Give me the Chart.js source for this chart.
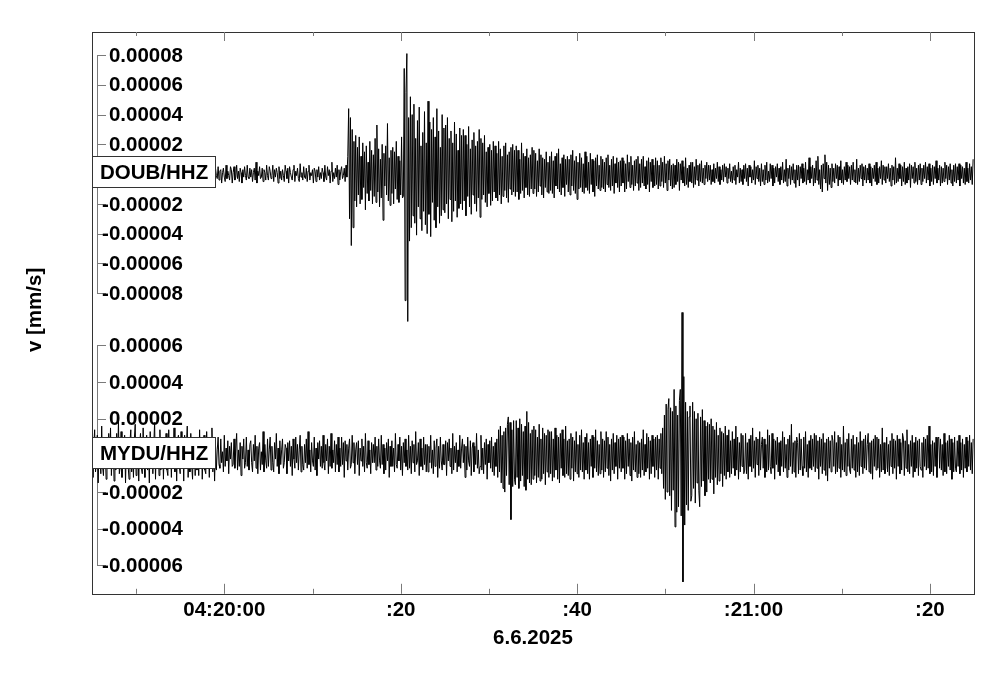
<!DOCTYPE html>
<html lang="en">
<head>
    <meta charset="UTF-8">
    <title>DOUB / MYDU seismogram</title>
    <script src="https://cdn.jsdelivr.net/npm/chart.js"></script>
    <style>
        * { margin: 0; padding: 0; box-sizing: border-box; }
        body { background: #fff; }
        .wrap { width: 1000px; height: 678px; position: relative; }
    </style>
</head>
<body>
    <div class="wrap"><canvas id="seis"></canvas></div>

    <script>
        // time axis: seconds relative to 04:20:00, one sample per 0.1 s
        const startSec = -15;
        const sampleStep = 0.1;
        const timeTicks = [0, 20, 40, 60, 80];
        const timeLabels = ['04:20:00', ':20', ':40', ':21:00', ':20'];
        const minorTimeTicks = [-10, 10, 30, 50, 70];
        const dateLabel = '6.6.2025';
        const yTitle = 'v [mm/s]';
        const stations = ['DOUB/HHZ', 'MYDU/HHZ'];

        // tick values in 1e-6 mm/s
        const doubTicks = [80, 60, 40, 20, -20, -40, -60, -80];
        const myduTicks = [60, 40, 20, -20, -40, -60];

        // DOUB/HHZ velocity, 1e-6 mm/s, 20 samples (2 s) per row
        const doubValues = [
            2,-3,5,-1,-4,3,6,-2,-5,1,4,-3,2,-6,3,5,-1,-4,2,-2,
            4,-5,1,3,-2,-6,4,2,-3,5,-1,-4,7,-3,-2,4,1,-5,3,-1,
            -3,6,-2,-4,5,1,-6,3,-1,4,-5,2,6,-3,-2,5,-4,1,3,-6,
            5,-2,-4,3,8,-5,1,-3,4,-2,-6,5,2,-4,3,-1,6,-5,-2,4,
            -1,3,-5,6,-2,-3,4,1,-7,5,-2,3,-4,2,5,-6,1,4,-3,-1,
            3,-4,2,5,-6,1,-2,4,3,-5,6,-3,-1,4,-4,2,7,-5,-2,3,
            -5,2,4,-3,1,-6,5,-1,3,-4,2,6,-5,-2,4,-3,1,5,-6,2,
            4,-1,-3,5,-4,2,3,-6,1,4,-2,-5,6,-3,2,-1,-4,5,3,-6,
            1,5,-4,-2,6,-3,2,-5,4,1,-6,3,-2,5,-1,-4,6,-2,-3,4,
            -2,3,-5,1,4,-4,8,-6,2,-1,5,-3,-2,4,-5,3,1,-4,6,-1,
            -4,5,2,-3,-1,6,-5,3,-2,4,1,-6,5,-3,2,-4,3,-1,-5,6,
            2,-3,4,-6,5,1,-2,-4,3,6,-5,2,-1,4,-3,-5,7,-2,1,-4,
            5,-2,-3,4,-5,2,6,-4,1,-1,3,-6,4,2,-5,3,-2,5,-4,1,
            -3,4,1,-5,6,-2,-4,5,-1,3,-6,2,8,-5,1,-3,4,-2,6,-7,
            3,-4,2,5,-3,-1,4,-5,6,-2,12,44,-30,38,-48,30,-36,22,-18,26,
            -22,18,-14,25,-20,12,-17,21,-9,15,-24,19,-13,8,-18,22,-11,16,-20,13,
            -15,24,-19,33,-12,17,-22,10,-16,20,-31,14,-8,19,-14,34,-18,11,-21,16,
            -13,18,-20,15,-10,22,-17,12,-19,9,-14,25,-16,-15,71,-85,55,81,-99,38,
            -45,52,-36,40,-28,47,-33,24,-41,36,-22,45,-30,19,-38,28,-25,42,-34,21,
            -40,49,-27,35,-42,30,-19,38,-31,25,-36,44,-22,29,-33,18,-28,40,-24,31,
            -26,33,-20,38,-30,24,-17,29,-32,21,-25,35,-18,27,-29,16,-23,31,-20,26,
            -24,30,-18,26,-28,20,-15,32,-22,17,-27,23,-14,28,-20,19,-25,22,-16,30,
            -29,24,-17,21,-14,26,-19,15,-22,18,-13,20,-21,16,-18,22,-12,19,-16,14,
            -18,22,-14,17,-20,12,-15,19,-11,21,-16,13,-19,15,-10,18,-14,20,-12,16,
            -15,19,-12,16,-17,10,-13,21,-11,14,-16,12,-9,17,-14,11,-15,13,-10,18,
            -13,16,-10,14,-15,9,-12,17,-8,13,-14,11,-16,10,-9,15,-12,8,-13,12,
            -11,15,-13,9,-16,12,-8,14,-10,17,-12,7,-14,11,-9,13,-15,10,-7,12,
            -12,10,-14,13,-8,16,-11,9,-13,12,-17,8,-10,14,-9,11,-12,7,-13,15,
            -9,12,-11,8,-13,14,-7,10,-12,9,-15,11,-8,13,-10,6,-11,12,-9,10,
            -10,8,-12,11,-7,13,-9,6,-11,10,-8,12,-13,7,-6,11,-9,8,-12,9,
            -8,11,-6,9,-12,7,-10,13,-5,8,-9,12,-7,6,-11,9,-8,10,-6,12,
            -11,7,-9,10,-6,12,-8,5,-10,9,-7,11,-12,8,-5,10,-9,6,-8,11,
            -7,9,-10,6,-8,11,-5,8,-9,12,-6,7,-11,9,-4,10,-8,6,-10,7,
            -9,6,-7,10,-5,8,-11,7,-4,9,-6,5,-8,11,-7,4,-9,6,-5,8,
            -6,8,-9,5,-7,10,-4,6,-8,7,-5,9,-6,4,-7,6,-3,8,-5,6,
            -4,6,-7,3,-5,7,-6,4,-3,8,-5,5,-7,3,-4,6,-5,7,-2,5,
            -6,4,-3,7,-5,2,-6,5,-4,6,-7,3,-2,8,-6,4,-5,3,-7,6,
            -3,7,-5,4,-8,6,-2,5,-6,3,-4,9,-7,5,-3,6,-5,4,-8,7,
            -5,3,-7,6,-4,8,-6,2,-5,7,-3,6,-8,4,-6,5,-2,7,-5,4,
            -7,5,-4,8,-6,3,-5,10,-8,4,-3,6,-7,5,-4,7,-6,3,-9,6,
            -4,6,-8,5,-3,7,-6,4,-5,8,-7,3,-4,11,-6,5,-3,6,-8,4,
            -6,9,-4,12,-7,3,-10,6,-12,7,-3,13,-6,8,-11,6,-7,4,-9,7,
            -5,4,-6,7,-3,6,-8,5,-4,9,-6,3,-7,5,-4,8,-5,6,-3,5,
            -7,6,-4,8,-5,3,-6,10,-7,4,-5,6,-3,7,-8,5,-4,6,-6,4,
            -4,7,-6,5,-8,4,-3,6,-5,8,-7,4,-6,5,-3,9,-7,6,-4,5,
            -6,5,-3,7,-5,4,-8,6,-4,5,-7,11,-6,4,-5,7,-3,6,-8,5,
            -5,8,-7,4,-6,5,-4,7,-9,6,-3,5,-6,8,-5,4,-7,6,-4,7,
            -7,4,-5,6,-3,8,-6,5,-4,7,-8,4,-5,6,-7,5,-3,9,-6,4,
            -4,6,-8,5,-6,4,-5,8,-3,6,-7,5,-4,7,-6,3,-8,6,-5,7,
            -6,5,-4,7,-8,6,-3,5,-6,4,-7,8,-5,4,-6,7,-4,5,-7,10
        ];

        // MYDU/HHZ velocity, 1e-6 mm/s, 20 samples (2 s) per row
        const myduValues = [
            8,-12,5,14,-9,-3,11,-15,7,2,-10,16,-6,-11,9,4,-13,10,-5,12,
            -7,15,-11,3,9,-14,6,-8,12,-4,19,-10,-6,13,-12,8,-3,11,-15,5,
            10,-6,-13,7,14,-9,4,-12,9,17,-11,-5,8,-14,6,12,-7,-10,15,-4,
            -12,6,11,-8,3,-15,13,-6,9,-10,5,18,-13,7,-4,10,-11,14,-8,2,
            9,-13,7,-5,12,-8,-11,14,-3,6,-12,10,-7,15,-9,4,-14,8,11,-6,
            -10,13,-4,8,-14,11,-7,5,16,-12,3,-9,12,-5,-13,9,6,-11,10,-8,
            7,-11,14,-6,9,-13,4,11,-8,-10,13,-3,6,-12,10,-7,15,-9,5,-14,
            6,-8,3,10,-5,-7,9,-4,2,-9,11,-6,4,-3,8,-10,5,-2,7,-6,
            -5,9,-7,4,12,-8,3,-6,7,-11,5,-2,9,-7,-4,10,-6,3,-8,6,
            8,-4,-9,6,-3,11,-7,5,-10,4,7,-8,2,-5,13,-9,6,-3,-7,9,
            -6,3,10,-8,5,-4,-9,7,-2,12,-6,4,-10,8,-5,3,9,-7,-4,6,
            4,-10,7,-3,8,-6,5,-11,9,-2,-7,10,-4,6,-8,3,11,-9,5,-5,
            -8,6,-4,9,-7,13,-5,3,-9,7,-3,-6,10,-8,4,-11,7,-2,8,-6,
            5,-7,11,-4,-8,6,-3,9,-10,5,-6,12,-7,3,-4,8,-9,6,-5,10,
            -9,4,-6,10,-5,7,-12,8,-3,6,-8,4,9,-7,-5,11,-4,7,-10,3,
            7,-5,8,-11,4,-3,9,-6,5,-9,12,-4,-7,8,-5,3,-10,7,-4,6,
            -4,10,-8,5,-6,9,-3,-7,11,-5,6,-10,4,-8,7,-3,9,-12,5,-6,
            8,-6,4,-9,12,-5,-7,6,-3,10,-8,5,-11,7,-4,9,-6,3,-8,11,
            -7,5,-10,8,-4,6,-9,13,-5,-3,7,-11,9,-6,4,-8,10,-5,6,-9,
            6,-9,5,-4,11,-7,3,-10,8,-6,4,9,-12,5,-7,10,-3,-8,6,-5,
            -5,8,-11,7,-3,9,-6,4,-10,12,-8,5,-4,7,-9,3,-6,11,-7,4,
            9,-4,6,-12,5,-8,10,-3,-6,8,-11,4,7,-9,5,-5,12,-7,3,-10,
            -6,11,-8,4,-10,7,-5,9,-13,6,-4,8,-7,10,-9,5,-11,7,-6,9,
            -12,14,-9,16,-15,11,-18,13,-20,15,-11,17,21,-16,18,-35,14,-17,19,-13,
            -16,19,-12,15,-18,20,-14,17,-11,13,-17,16,-19,24,-13,18,-15,12,-16,14,
            -13,16,-11,14,-15,10,-12,17,-14,9,-13,15,-10,12,-16,11,-9,14,-12,13,
            -10,13,-14,9,-12,15,-8,11,-13,10,-15,12,-7,14,-11,9,-12,16,-10,8,
            -11,9,-13,12,-7,10,-14,8,-9,13,-10,6,-12,11,-8,14,-9,7,-13,10,
            -8,12,-10,7,-13,9,-6,11,-12,10,-7,14,-9,8,-11,6,-10,13,-8,9,
            -12,8,-9,13,-7,10,-11,6,-14,9,-8,12,-10,7,-6,11,-13,9,-7,10,
            -9,11,-7,10,-13,8,-10,12,-6,9,-11,7,-14,10,-8,13,-9,6,-12,8,
            -10,7,-12,9,-8,14,-11,6,-9,12,-7,10,-13,8,-10,11,-6,9,-12,10,
            -8,11,-13,9,-7,12,-10,15,-18,22,-24,28,-20,25,31,-22,26,-30,24,-19,
            36,-39,27,-31,22,-28,30,36,-33,78,-69,43,-38,29,-27,24,-30,21,27,-25,
            -22,29,-18,24,-26,20,-15,23,-19,-28,21,-17,25,-14,19,-22,16,-20,18,-13,
            17,-15,20,-13,16,-21,14,-12,18,-16,11,-14,15,-10,13,-17,12,-11,16,-13,
            11,-9,14,-12,8,-10,13,-7,9,-11,16,-8,10,-13,7,-9,12,-6,11,-10,
            -8,12,-10,7,-13,9,-6,11,-9,15,-7,8,-12,10,-5,9,-11,13,-8,6,
            10,-7,9,-12,6,-9,14,-8,11,-6,-10,12,-7,9,-13,8,-5,10,-9,7,
            -11,8,-6,13,-9,10,-7,6,-12,9,-8,11,-6,17,-10,7,-9,8,-12,10,
            7,-10,12,-8,9,-6,-11,10,-7,13,-9,6,-12,8,-7,11,-8,9,-6,12,
            -9,11,-7,8,-13,10,-6,9,-10,12,-8,7,-11,9,-14,10,-7,8,-9,11,
            8,-6,13,-10,7,-9,11,-7,10,-12,6,-8,16,-9,7,-11,9,-6,12,-8,
            -10,9,-7,11,-8,6,-12,10,-9,7,-11,13,-6,8,-10,9,-7,11,-8,6,
            12,-9,7,-10,8,-13,9,-6,11,-8,10,-7,9,-12,6,-9,15,-8,7,-10,
            -7,10,-9,6,-11,8,-6,12,-10,9,-7,8,-13,11,-6,9,-10,7,-8,12,
            9,-11,8,-7,14,-9,6,-10,8,-6,11,-12,7,-9,10,-7,8,-11,9,-6,
            -8,7,-12,10,-6,9,-8,11,-7,16,-10,6,-9,8,-11,7,-6,10,-12,9,
            10,-7,9,-8,6,-11,12,-9,7,-10,8,-6,11,-8,9,-13,7,-9,10,-7,
            -9,8,-6,11,-10,7,-8,9,-12,6,-7,10,-9,8,-6,11,-8,7,-10,9
        ];

        const FONT = '"Liberation Sans", Arial, sans-serif';
        const labelFont = 'bold 20.5px ' + FONT;
        const micro = v => (v / 1e6).toFixed(5);
        const toPoints = vals => vals.map((v, i) => ({ x: startSec + i * sampleStep, y: v }));

        // frame, inward time ticks, channel brackets and station boxes
        const seisFrame = {
            id: 'seisFrame',
            beforeDatasetsDraw(chart) {
                const { ctx, chartArea: a, scales } = chart;
                ctx.save();
                [[scales.yTop, doubTicks], [scales.yBot, myduTicks]].forEach(([s, ticks]) => {
                    const hi = Math.round(s.getPixelForValue(Math.max(...ticks))) + 0.5;
                    const lo = Math.round(s.getPixelForValue(Math.min(...ticks))) + 0.5;
                    ctx.strokeStyle = '#7a7a7a';
                    ctx.lineWidth = 1;
                    ctx.beginPath();
                    ctx.moveTo(a.left + 5.5, hi);
                    ctx.lineTo(a.left + 5.5, lo);
                    ticks.forEach(v => {
                        const y = Math.round(s.getPixelForValue(v)) + 0.5;
                        ctx.moveTo(a.left + 5, y);
                        ctx.lineTo(a.left + 14, y);
                    });
                    ctx.stroke();
                    ctx.fillStyle = '#000';
                    ctx.font = labelFont;
                    ctx.textAlign = 'right';
                    ctx.textBaseline = 'middle';
                    ticks.forEach(v => ctx.fillText(micro(v), a.left + 91, s.getPixelForValue(v) + 1));
                });
                ctx.restore();
            },
            afterDatasetsDraw(chart) {
                const { ctx, chartArea: a, scales } = chart;
                ctx.save();
                // station boxes over the traces
                [scales.yTop, scales.yBot].forEach((s, i) => {
                    const y0 = Math.round(s.getPixelForValue(0));
                    ctx.fillStyle = '#fff';
                    ctx.fillRect(a.left, y0 - 18, 123, 32);
                    ctx.strokeStyle = '#333';
                    ctx.lineWidth = 1;
                    ctx.strokeRect(a.left + 0.5, y0 - 17.5, 123, 31);
                    ctx.fillStyle = '#000';
                    ctx.font = labelFont;
                    ctx.textAlign = 'left';
                    ctx.textBaseline = 'middle';
                    ctx.fillText(chart.data.datasets[i].label, a.left + 8, y0 - 1);
                });
                // plot frame
                ctx.strokeStyle = '#333';
                ctx.lineWidth = 1;
                ctx.strokeRect(Math.round(a.left) + 0.5, Math.round(a.top) + 0.5,
                    Math.round(a.right - a.left), Math.round(a.bottom - a.top));
                // inward time ticks on top and bottom
                const x = scales.x;
                ctx.strokeStyle = '#7a7a7a';
                ctx.beginPath();
                [[timeTicks, 9, 10], [minorTimeTicks, 4, 5]].forEach(([vals, lt, lb]) => {
                    vals.forEach(v => {
                        const px = Math.round(x.getPixelForValue(v)) + 0.5;
                        ctx.moveTo(px, a.top);
                        ctx.lineTo(px, a.top + lt);
                        ctx.moveTo(px, a.bottom);
                        ctx.lineTo(px, a.bottom - lb);
                    });
                });
                ctx.stroke();
                // y title
                ctx.translate(35, (a.top + a.bottom) / 2 - 3);
                ctx.rotate(-Math.PI / 2);
                ctx.fillStyle = '#000';
                ctx.font = labelFont;
                ctx.textAlign = 'center';
                ctx.textBaseline = 'middle';
                ctx.fillText(yTitle, 0, 0);
                ctx.restore();
            }
        };

        new Chart(document.getElementById('seis'), {
            type: 'line',
            data: {
                datasets: [
                    { label: stations[0], data: toPoints(doubValues), yAxisID: 'yTop' },
                    { label: stations[1], data: toPoints(myduValues), yAxisID: 'yBot' }
                ]
            },
            options: {
                responsive: true,
                maintainAspectRatio: false,
                animation: false,
                parsing: false,
                normalized: true,
                layout: { padding: { left: 92, right: 26, top: 32, bottom: 27 } },
                elements: {
                    point: { radius: 0 },
                    line: { borderWidth: 1, borderColor: '#000', tension: 0 }
                },
                plugins: {
                    legend: { display: false },
                    tooltip: { enabled: false }
                },
                scales: {
                    x: {
                        type: 'linear',
                        min: startSec,
                        max: startSec + 100,
                        afterBuildTicks: s => { s.ticks = timeTicks.map(v => ({ value: v })); },
                        grid: { display: false, drawTicks: false },
                        border: { display: false },
                        ticks: {
                            padding: 4,
                            maxRotation: 0,
                            autoSkip: false,
                            color: '#000',
                            font: { family: FONT, size: 20.5, weight: 'bold' },
                            callback: v => timeLabels[timeTicks.indexOf(v)] ?? ''
                        },
                        title: {
                            display: true,
                            text: dateLabel,
                            color: '#000',
                            padding: { top: 0, bottom: 0 },
                            font: { family: FONT, size: 20.5, weight: 'bold' }
                        }
                    },
                    yTop: { type: 'linear', display: false, min: -282, max: 95.5 },
                    yBot: { type: 'linear', display: false, min: -75.5, max: 231 }
                }
            },
            plugins: [seisFrame]
        });
    </script>
</body>
</html>
